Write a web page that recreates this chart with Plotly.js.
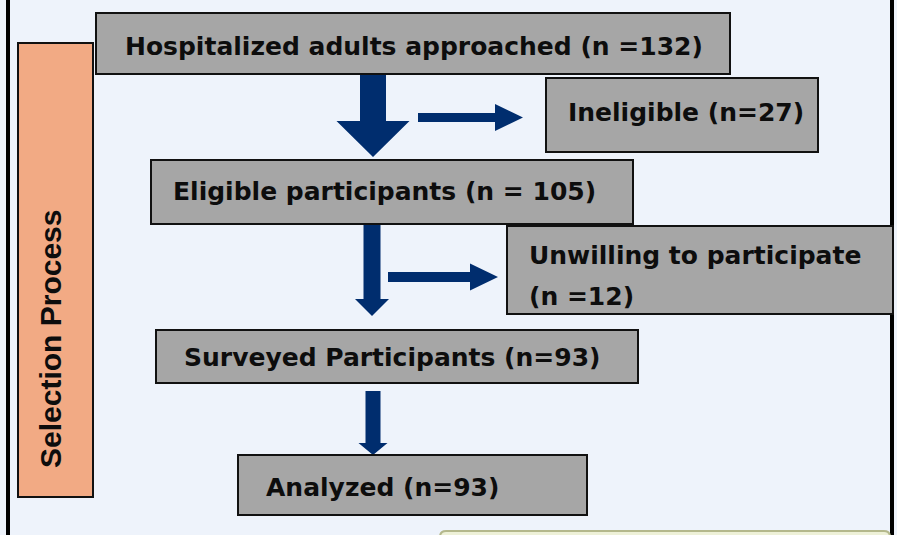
<!DOCTYPE html>
<html>
<head>
<meta charset="utf-8">
<script src="https://cdn.plot.ly/plotly-3.0.1.min.js"></script>
<style>html,body{margin:0;padding:0;background:#EEF3FB;}#chart{width:897px;height:535px;}</style>
</head>
<body>
<div id="chart"></div>
<script>
// ---- data ----
const stages = ["Hospitalized adults approached", "Ineligible", "Eligible participants",
                "Unwilling to participate", "Surveyed Participants", "Analyzed"];
const counts = [132, 27, 105, 12, 93, 93];
const countPrefix = [" (n =", " (n=", " (n = ", "\n(n =", " (n=", " (n="];
const sideLabel = "Selection Process";

// ---- layout (positions in pixel space of the 897x535 canvas) ----
const boxes = [
  [96, 13, 730, 74],
  [546, 78, 818, 152],
  [151, 160, 633, 224],
  [507, 226, 893, 314],
  [156, 330, 638, 383],
  [238, 455, 587, 515]
];
const textPos = [
  [123, 46], [566, 112], [171, 191], [527, 255], [182, 357], [264, 487]
];
const lineGap = 41;
// down arrows: [cx, yStart, yTip, shaftW, headW, headLen]
const downArrows = [
  [373, 74, 157, 26, 73, 36],
  [372, 224, 316, 17, 34, 17],
  [373, 391, 455, 15, 29, 12]
];
// right arrows: [cy, xStart, xTip, shaftH, headH, headLen]
const rightArrows = [
  [117.5, 418, 523, 9, 27, 28],
  [277, 388, 498, 10, 27, 28]
];

const navy = "#002D6E";
const shapes = [];

// outer frame
shapes.push({type: "line", x0: 8, x1: 8, y0: 0, y1: 535, line: {color: "#000", width: 4}});
shapes.push({type: "line", x0: 892, x1: 892, y0: 0, y1: 535, line: {color: "#000", width: 4}});
// bottom-right partial green box
shapes.push({type: "path", path: "M 440 545 L 440 537 Q 440 531 446 531 L 884 531 Q 890 531 890 537 L 890 545 Z",
             fillcolor: "#EEF1D8", line: {color: "#B4B88C", width: 2}});

// side label box
shapes.push({type: "rect", x0: 18, y0: 43, x1: 93, y1: 497, fillcolor: "#F2AA84", line: {color: "#111", width: 2}});

downArrows.forEach(a => {
  const [cx, y0, tip, sw, hw, hl] = a;
  const yh = tip - hl;
  const p = `M ${cx - sw/2} ${y0} L ${cx + sw/2} ${y0} L ${cx + sw/2} ${yh} L ${cx + hw/2} ${yh} L ${cx} ${tip} L ${cx - hw/2} ${yh} L ${cx - sw/2} ${yh} Z`;
  shapes.push({type: "path", path: p, fillcolor: navy, line: {width: 0}});
});
rightArrows.forEach(a => {
  const [cy, x0, tip, sh, hh, hl] = a;
  const xh = tip - hl;
  const p = `M ${x0} ${cy - sh/2} L ${xh} ${cy - sh/2} L ${xh} ${cy - hh/2} L ${tip} ${cy} L ${xh} ${cy + hh/2} L ${xh} ${cy + sh/2} L ${x0} ${cy + sh/2} Z`;
  shapes.push({type: "path", path: p, fillcolor: navy, line: {width: 0}});
});

boxes.forEach(b => {
  shapes.push({type: "rect", x0: b[0], y0: b[1], x1: b[2], y1: b[3], fillcolor: "#A6A6A6", line: {color: "#111", width: 2}});
});

const boxFont = {family: "'DejaVu Sans', sans-serif", size: 25, color: "#0d0d0d", weight: 700};
const annotations = [];
stages.forEach((s, i) => {
  const lines = (s + countPrefix[i] + counts[i] + ")").split("\n");
  lines.forEach((ln, k) => {
    annotations.push({
      x: textPos[i][0], y: textPos[i][1] + k * lineGap, xref: "x", yref: "y",
      xanchor: "left", yanchor: "middle", align: "left", showarrow: false,
      text: ln, font: boxFont
    });
  });
});
annotations.push({
  x: 50, y: 339, xref: "x", yref: "y", xanchor: "center", yanchor: "middle",
  showarrow: false, textangle: -90, text: sideLabel,
  font: {family: "'Liberation Sans', Arial, sans-serif", size: 30, color: "#0d0d0d", weight: 700}
});

const layout = {
  width: 897, height: 535,
  margin: {l: 0, r: 0, t: 0, b: 0},
  paper_bgcolor: "#EEF3FB", plot_bgcolor: "#EEF3FB",
  xaxis: {range: [0, 897], visible: false, fixedrange: true},
  yaxis: {range: [535, 0], visible: false, fixedrange: true},
  shapes: shapes, annotations: annotations, showlegend: false
};
Plotly.newPlot("chart", [], layout, {displayModeBar: false, staticPlot: true});
</script>
</body>
</html>
